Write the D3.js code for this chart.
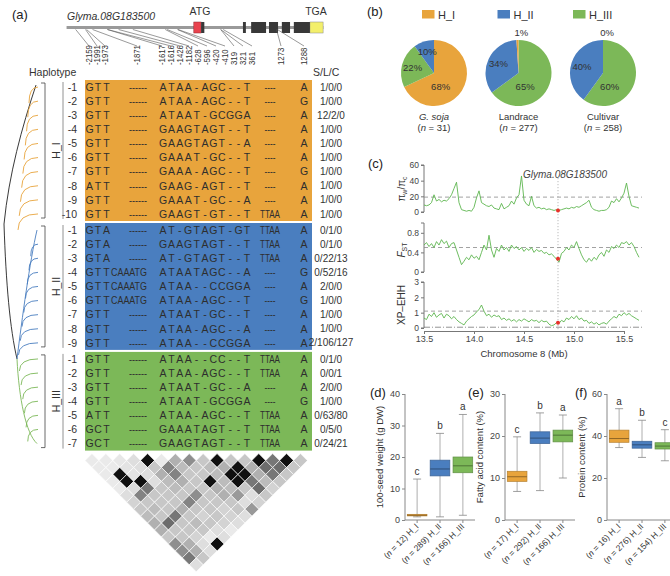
<!DOCTYPE html>
<html>
<head>
<meta charset="utf-8">
<script src="https://cdn.jsdelivr.net/npm/d3@7/dist/d3.min.js"></script>
<style>
  body { margin: 0; background: #fff; }
  svg { display: block; font-family: "Liberation Sans", Arial, sans-serif; }
</style>
</head>
<body>
<svg id="fig" width="670" height="576"></svg>
<script>
// ---------------- data ----------------
var snpLabels = ["-2159","-1991","-1973","-1871","-1617","-1616","-1426","-1182","-628","-596","-420","-410","319","321","361","1273","1288"];
var snpBp = [-2159,-1991,-1973,-1871,-1617,-1616,-1426,-1182,-628,-596,-420,-410,319,321,361,1273,1288];

// gene model in bp relative to ATG
var geneSpan = [-2315, 2075];
var utr5 = [-140, -15];
var utr3 = [1845, 2070];
var exons = [[-15, 40], [700, 750], [840, 1095], [1145, 1300], [1365, 1505], [1570, 1845]];

var haploGroups = ["H_I", "H_II", "H_III"];
// group, id, alleles (17 sites), S/L/C counts
var haplotypes = [
  ["H_I", "-1",  "G T T ------ A T A A - A G C - - T ---- A", "1/0/0"],
  ["H_I", "-2",  "G T T ------ A T A A - A G C - - T ---- G", "1/0/0"],
  ["H_I", "-3",  "G T T ------ A T A A T - G C G G A ---- A", "12/2/0"],
  ["H_I", "-4",  "G T T ------ G A A G T A G T - - T ---- A", "1/0/0"],
  ["H_I", "-5",  "G T T ------ G A A G T A G T - - A ---- A", "1/0/0"],
  ["H_I", "-6",  "G T T ------ G A A A T - G C - - T ---- A", "1/0/0"],
  ["H_I", "-7",  "G T T ------ G A A A - A G C - - T ---- G", "1/0/0"],
  ["H_I", "-8",  "A T T ------ G A A G - A G T - - T ---- A", "1/0/0"],
  ["H_I", "-9",  "G T T ------ G A A A T - G C - - A ---- A", "1/0/0"],
  ["H_I", "-10", "G T T ------ G A A G T - G T - - T TTAA A", "1/0/0"],
  ["H_II", "-1", "G T A ------ A T - G T A G T - G T TTAA A", "0/1/0"],
  ["H_II", "-2", "G T A ------ G A A G T A G T - - T TTAA A", "0/1/0"],
  ["H_II", "-3", "G T A ------ A T - G T A G T - - T TTAA A", "0/22/13"],
  ["H_II", "-4", "G T T CAAATG A T A A T A G C - - A ---- G", "0/52/16"],
  ["H_II", "-5", "G T T CAAATG A T A A - - C C G G A ---- A", "2/0/0"],
  ["H_II", "-6", "G T T CAAATG A T A A - A G C - - T ---- G", "1/0/0"],
  ["H_II", "-7", "G T T ------ A T A A T - G C - - T ---- A", "1/0/0"],
  ["H_II", "-8", "G T T ------ A T A A - A G C - - A ---- A", "1/0/0"],
  ["H_II", "-9", "G T T ------ A T A A - - C C G G A ---- A", "2/106/127"],
  ["H_III", "-1", "G T T ------ A T A A - - C C - - T TTAA A", "0/1/0"],
  ["H_III", "-2", "G T T ------ A T A A - A G C - - T TTAA A", "0/0/1"],
  ["H_III", "-3", "G T T ------ A T A A T - G C - - A ---- A", "2/0/0"],
  ["H_III", "-4", "G T T ------ A T A A T - G C G G A ---- G", "1/0/0"],
  ["H_III", "-5", "A T T ------ A T A A - A G C - - T TTAA A", "0/63/80"],
  ["H_III", "-6", "G C T ------ G A A A T A G T - - T TTAA A", "0/5/0"],
  ["H_III", "-7", "G C T ------ G A A G T A G T - - T TTAA A", "0/24/21"]
];

// pairwise LD (r2) among the 17 sites, one array per marker distance (1..16)
var ldRows = [
  [0.05,0.05,0.06,0.10,1.00,0.05,0.30,0.45,0.20,1.00,0.20,0.20,1.00,0.55,1.00,0.20],
  [0.05,0.05,0.08,0.10,0.20,0.50,0.25,0.20,0.25,0.30,1.00,0.30,0.60,0.60,0.20],
  [0.05,1.00,0.08,0.10,0.30,0.50,0.20,0.20,0.25,1.00,1.00,0.30,0.55,0.20],
  [0.05,1.00,1.00,0.10,0.25,0.30,0.20,1.00,0.25,1.00,0.55,0.25,0.20],
  [0.05,0.10,0.55,0.20,0.25,0.20,0.20,0.30,0.25,0.20,0.60,0.15],
  [0.10,0.50,0.20,0.20,0.20,0.45,0.20,0.30,0.40,0.10,0.20],
  [0.15,0.20,0.20,0.20,0.50,0.20,0.20,0.20,0.10,0.15],
  [0.20,0.25,0.20,0.30,0.20,0.20,0.15,0.20,0.40],
  [0.25,0.20,0.55,0.20,0.15,0.20,0.15,0.10],
  [0.30,0.60,0.20,0.25,0.20,0.15,0.10],
  [0.30,0.20,0.20,0.20,0.10,0.05],
  [0.20,0.20,0.15,0.05,0.10],
  [0.45,0.30,0.10,1.00],
  [0.45,0.30,0.10],
  [0.55,0.20],
  [0.10]
];

// (b) haplotype frequency (%) per population
var pieGroups = ["G. soja", "Landrace", "Cultivar"];
var pieN = [31, 277, 258];
var pctHI = [68, 1, 0];
var pctHII = [10, 34, 40];
var pctHIII = [22, 65, 60];
var pieOrder = [["H_I","H_III","H_II"], ["H_III","H_II","H_I"], ["H_III","H_II","H_I"]];

// (c) selective sweep scan, windows along chromosome 8 (Mb)
var windowStart = 13.5, windowStep = 0.025;
var piRatio = [9,8,9,12,22,14,16,13,15,14,17,22,30,38,12,3,2,1,2,1,6,18,27,12,10,8,7,9,5,4,3,11,4,6,8,14,10,18,22,46,15,10,8,20,8,5,6,4,5,3,4,3,2,3,2,3,4,5,4,6,5,7,6,8,10,12,15,6,3,2,1,2,2,3,6,14,12,17,13,18,24,37,20,8,7,6,5];
var fst = [0.55,0.60,0.52,0.58,0.50,0.62,0.55,0.66,0.58,0.63,0.50,0.58,0.60,0.45,0.30,0.15,0.22,0.30,0.25,0.35,0.28,0.32,0.25,0.40,0.55,0.45,0.75,0.45,0.30,0.48,0.42,0.55,0.45,0.50,0.42,0.55,0.48,0.52,0.45,0.50,0.42,0.48,0.44,0.50,0.40,0.46,0.42,0.44,0.38,0.40,0.35,0.37,0.32,0.26,0.20,0.38,0.42,0.50,0.45,0.55,0.50,0.62,0.48,0.35,0.25,0.20,0.28,0.22,0.30,0.25,0.35,0.40,0.32,0.45,0.40,0.52,0.48,0.55,0.50,0.60,0.58,0.62,0.55,0.60,0.52,0.40,0.30];
var xpehh = [0.65,0.55,0.90,0.75,1.00,0.70,0.85,0.95,0.65,0.90,0.80,0.60,0.75,0.55,0.40,0.30,0.20,0.45,0.60,0.75,0.85,1.05,1.20,1.50,1.10,0.80,0.90,0.70,0.85,0.75,0.80,0.55,0.65,0.50,0.60,0.45,0.55,0.40,0.55,0.45,0.60,0.50,0.40,0.55,0.45,0.50,0.35,0.50,0.40,0.45,0.25,0.15,0.20,0.35,0.30,0.50,0.40,0.65,0.55,0.75,0.60,0.80,0.55,0.65,0.45,0.50,0.30,0.40,0.25,0.35,0.20,0.30,0.35,0.25,0.45,0.60,0.75,0.65,0.90,0.80,1.00,0.85,0.95,0.80,0.70,0.60,0.50];
var genePosMb = 14.84;
var geneStats = [2, 0.27, 0.35];   // pi ratio, Fst, XP-EHH at the gene
var thresholds = [19, 0.5, 1.1];

// (d)-(f) box plots: min, q1, median, q3, max per haplotype
var seedN = [12, 289, 166];
var seedMin = [1.0, 1.0, 1.5], seedQ1 = [1.3, 14, 15], seedMed = [1.5, 16.2, 17.2], seedQ3 = [1.8, 19, 20], seedMax = [13, 27.5, 33.5];
var seedLetters = ["c", "b", "a"];
var fattyN = [17, 292, 166];
var fattyMin = [6.8, 7, 10], fattyQ1 = [9.2, 18.2, 18.6], fattyMed = [10.3, 19.5, 20.2], fattyQ3 = [11.6, 21, 21.4], fattyMax = [19.8, 25.5, 25];
var fattyLetters = ["c", "b", "a"];
var protN = [16, 276, 154];
var protMin = [34.5, 29.8, 28.2], protQ1 = [37, 34.2, 33.8], protMed = [38.8, 35.8, 35.2], protQ3 = [42.8, 37.5, 36.8], protMax = [53, 47.5, 43];
var protLetters = ["a", "b", "c"];

// ---------------- drawing ----------------
var svg = d3.select("#fig");
svg.append("rect").attr("width", 670).attr("height", 576).attr("fill", "#fff");
var ink = "#333";
var hapColor = d3.scaleOrdinal().domain(haploGroups).range(["#E8A43C", "#4A7EBF", "#7CB858"]);

function panelLabel(t, x, y) {
  svg.append("text").attr("x", x).attr("y", y).attr("font-size", 13).attr("fill", "#222").text(t);
}

// ===== (a) =====
panelLabel("(a)", 12, 19);
var gA = svg.append("g");
var gx = d3.scaleLinear().domain([0, 1000]).range([202, 260.5]);
var gy = 27.5;

gA.append("text").attr("x", 67).attr("y", 20).attr("font-size", 10.5).attr("font-style", "italic")
  .attr("fill", ink).text("Glyma.08G183500");
gA.append("text").attr("x", 200).attr("y", 15).attr("font-size", 10.5).attr("text-anchor", "middle").attr("fill", ink).text("ATG");
gA.append("text").attr("x", 316).attr("y", 15).attr("font-size", 10.5).attr("text-anchor", "middle").attr("fill", ink).text("TGA");

gA.append("line").attr("x1", gx(geneSpan[0])).attr("x2", gx(geneSpan[1])).attr("y1", gy).attr("y2", gy)
  .attr("stroke", "#9a9a9a").attr("stroke-width", 3);
gA.append("rect").attr("x", gx(utr5[0])).attr("width", gx(utr5[1]) - gx(utr5[0])).attr("y", gy - 5.5).attr("height", 11)
  .attr("fill", "#E8434E").attr("stroke", "#8a2a30").attr("stroke-width", 0.5);
gA.append("rect").attr("x", gx(utr3[0])).attr("width", gx(utr3[1]) - gx(utr3[0])).attr("y", gy - 5.5).attr("height", 11)
  .attr("fill", "#F3EF6B").attr("stroke", "#888").attr("stroke-width", 0.5);
gA.selectAll("rect.exon").data(exons).enter().append("rect").attr("class", "exon")
  .attr("x", function (d) { return gx(d[0]); })
  .attr("width", function (d) { return gx(d[1]) - gx(d[0]); })
  .attr("y", gy - 5.5).attr("height", 11).attr("fill", "#383838");

var labelX = [89, 97, 105, 137, 162, 171, 180, 189, 198, 207, 216, 225, 234, 243, 252, 281, 304];
gA.selectAll("line.snp").data(snpBp).enter().append("line").attr("class", "snp")
  .attr("x1", function (d) { return gx(d); }).attr("y1", gy + 2)
  .attr("x2", function (d, i) { return labelX[i]; }).attr("y2", 46)
  .attr("stroke", "#555").attr("stroke-width", 0.6);
gA.selectAll("text.snp").data(snpLabels).enter().append("text").attr("class", "snp")
  .attr("transform", function (d, i) { return "translate(" + labelX[i] + ",65) rotate(-90) scale(0.82,1)"; })
  .attr("dy", "0.35em").attr("font-size", 9.5).attr("fill", ink).text(function (d) { return d; });

gA.append("text").attr("x", 29).attr("y", 76).attr("font-size", 10.5).attr("fill", ink).text("Haplotype");
gA.append("text").attr("x", 313).attr("y", 76).attr("font-size", 10.5).attr("fill", ink).text("S/L/C");

// table rows
var rowH = 14.1, groupGap = 2, tableTop = 80;
var rowTop = [], yy = tableTop;
haplotypes.forEach(function (h, i) {
  if (i > 0 && h[0] !== haplotypes[i - 1][0]) yy += groupGap;
  rowTop.push(yy);
  yy += rowH;
});
function rowMid(i) { return rowTop[i] + rowH / 2; }
var groupSpan = haploGroups.map(function (g) {
  var idx = haplotypes.map(function (h, i) { return h[0] === g ? i : -1; }).filter(function (i) { return i >= 0; });
  return { g: g, first: idx[0], last: idx[idx.length - 1], top: rowTop[idx[0]], bottom: rowTop[idx[idx.length - 1]] + rowH };
});

gA.selectAll("rect.blk").data(groupSpan).enter().append("rect").attr("class", "blk")
  .attr("x", 85).attr("width", 227)
  .attr("y", function (d) { return d.top; }).attr("height", function (d) { return d.bottom - d.top; })
  .attr("fill", function (d) { return hapColor(d.g); });

var colX = [89.5, 98, 106.5, 147, 163, 171.4, 179.8, 188.2, 196.6, 205, 213.4, 221.8, 230.2, 238.6, 247, 270, 304];
var wideLen = { "------": 18, "CAAATG": 36, "----": 11, "TTAA": 20 };
haplotypes.forEach(function (h, i) {
  var y = rowMid(i);
  var alle = h[2].split(" ");
  var row = gA.append("g").attr("font-size", 10.5).attr("fill", "#2e2e2e");
  alle.forEach(function (a, k) {
    var t = row.append("text").attr("y", y).attr("dy", "0.36em").text(a);
    if (k === 3) {
      t.attr("x", colX[k] - wideLen[a]).attr("textLength", wideLen[a]).attr("lengthAdjust", "spacingAndGlyphs");
    } else if (k === 15) {
      t.attr("x", colX[k] - wideLen[a] / 2).attr("textLength", wideLen[a]).attr("lengthAdjust", "spacingAndGlyphs");
    } else {
      t.attr("x", colX[k]).attr("text-anchor", "middle");
    }
  });
  gA.append("text").attr("x", 77).attr("y", y).attr("dy", "0.36em").attr("text-anchor", "end")
    .attr("font-size", 10.5).attr("fill", ink).text(h[1]);
  gA.append("text").attr("x", 331).attr("y", y).attr("dy", "0.36em").attr("text-anchor", "middle")
    .attr("font-size", 10).attr("fill", ink).text(h[3]);
});

// group brackets
groupSpan.forEach(function (s) {
  gA.append("line").attr("x1", 63).attr("x2", 63).attr("y1", s.top + 2).attr("y2", s.bottom - 2)
    .attr("stroke", "#777").attr("stroke-width", 0.8);
  gA.append("path").attr("d", "M41," + (s.top + 3) + "H45V" + (s.bottom - 3) + "H41")
    .attr("fill", "none").attr("stroke", "#444").attr("stroke-width", 0.8);
  gA.append("text").attr("transform", "translate(56," + ((s.top + s.bottom) / 2) + ") rotate(-90)")
    .attr("text-anchor", "middle").attr("dy", "0.35em").attr("font-size", 10.5).attr("fill", ink).text(s.g);
});

// dendrogram
var tree = gA.append("g").attr("fill", "none").attr("stroke-width", 0.9);
var rootY = (rowMid(groupSpan[0].last) + rowMid(groupSpan[1].first)) / 2 + 2;
var nodeLow = [17, rowMid(groupSpan[2].first)];
tree.append("path").attr("stroke", "#222")
  .attr("d", "M4," + rootY + "C9," + (rootY - 50) + " 22," + (rowMid(0) + 40) + " 36," + (rowMid(0) - 2));
tree.append("path").attr("stroke", "#222")
  .attr("d", "M4," + rootY + "C6," + (rootY + 60) + " 10," + (nodeLow[1] - 30) + " " + nodeLow[0] + "," + nodeLow[1]);
function leaf(x0, y0, x1, y1) { return "M" + x0 + "," + y0 + "Q" + x0 + "," + y1 + " " + x1 + "," + y1; }
var stemI = d3.scaleLinear().domain([rowMid(0), rowMid(groupSpan[0].last)]).range([33, 22]);
d3.range(groupSpan[0].first, groupSpan[0].last + 1).forEach(function (i) {
  var y = rowMid(i);
  tree.append("path").attr("stroke", hapColor("H_I")).attr("d", leaf(stemI(y) - 4, y + 16, 38, y));
});
tree.append("path").attr("stroke", hapColor("H_II"))
  .attr("d", "M" + nodeLow[0] + "," + nodeLow[1] + "C22," + (nodeLow[1] - 40) + " 30," + (rowMid(groupSpan[1].first) + 30) + " 37," + rowMid(groupSpan[1].first));
var stemII = d3.scaleLinear().domain([rowMid(groupSpan[1].first), nodeLow[1]]).range([34, 18]);
d3.range(groupSpan[1].first + 1, groupSpan[1].last + 1).forEach(function (i) {
  var y = rowMid(i);
  tree.append("path").attr("stroke", hapColor("H_II")).attr("d", leaf(stemII(y + 12), y + 12, 38, y));
});
tree.append("path").attr("stroke", hapColor("H_III"))
  .attr("d", "M" + nodeLow[0] + "," + nodeLow[1] + "C19," + (nodeLow[1] + 40) + " 26," + (rowMid(groupSpan[2].last) - 10) + " 37," + rowMid(groupSpan[2].last));
var stemIII = d3.scaleLinear().domain([nodeLow[1], rowMid(groupSpan[2].last)]).range([18, 28]);
d3.range(groupSpan[2].first, groupSpan[2].last).forEach(function (i) {
  var y = rowMid(i);
  tree.append("path").attr("stroke", hapColor("H_III")).attr("d", leaf(stemIII(y + 12), y + 12, 38, y));
});

// LD triangle
var ldX0 = 85, ldS = 13.9, ldY0 = groupSpan[2].bottom + 3;
var ldCells = [];
ldRows.forEach(function (row, r) {
  var d = r + 1;
  row.forEach(function (v, i) { ldCells.push({ i: i, j: i + d, v: v }); });
});
var ldColor = d3.scaleLinear().domain([0, 1]).range(["#f5f5f5", "#101010"]);
gA.selectAll("path.ld").data(ldCells).enter().append("path").attr("class", "ld")
  .attr("d", function (c) {
    var cx = ldX0 + (c.i + c.j) / 2 * ldS, cy = ldY0 + (c.j - c.i) * ldS / 2, h = ldS / 2;
    return "M" + cx + "," + (cy - h) + "L" + (cx + h) + "," + cy + "L" + cx + "," + (cy + h) + "L" + (cx - h) + "," + cy + "Z";
  })
  .attr("fill", function (c) { return ldColor(c.v); })
  .attr("stroke", "#fff").attr("stroke-width", 0.6);

// ===== (b) =====
panelLabel("(b)", 367, 16);
var gB = svg.append("g");
var legX = d3.scalePoint().domain(haploGroups).range([422, 573]);
haploGroups.forEach(function (g) {
  gB.append("rect").attr("x", legX(g)).attr("y", 10).attr("width", 12.5).attr("height", 8.5).attr("fill", hapColor(g));
  gB.append("text").attr("x", legX(g) + 16).attr("y", 18.5).attr("font-size", 11).attr("fill", ink).text(g);
});
var pieX = d3.scalePoint().domain(pieGroups).range([434, 603]);
var pieY = 73, pieR = 33;
var arc = d3.arc().innerRadius(0).outerRadius(pieR);
var pie = d3.pie().sort(null).value(function (d) { return d.v; });
pieGroups.forEach(function (p, k) {
  var pct = { H_I: pctHI[k], H_II: pctHII[k], H_III: pctHIII[k] };
  var data = pieOrder[k].map(function (g) { return { g: g, v: pct[g] }; });
  var arcs = pie(data);
  var cx = pieX(p);
  var g = gB.append("g").attr("transform", "translate(" + cx + "," + pieY + ")");
  g.selectAll("path").data(arcs).enter().append("path").attr("d", arc)
    .attr("fill", function (d) { return hapColor(d.data.g); });
  arcs.forEach(function (a) {
    var mid = (a.startAngle + a.endAngle) / 2, x, y;
    if (a.data.v < 5) { x = Math.sin(mid) * (pieR + 7) + 4; y = -Math.cos(mid) * (pieR + 7); }
    else if (a.data.v > 50) { x = pieR * 0.2; y = pieR * 0.4; }
    else { x = Math.sin(mid) * pieR * 0.67; y = -Math.cos(mid) * pieR * 0.67; }
    g.append("text").attr("x", x).attr("y", y).attr("dy", "0.35em").attr("text-anchor", "middle")
      .attr("font-size", 9.5).attr("fill", ink).text(a.data.v + "%");
  });
  var lab = gB.append("text").attr("x", cx).attr("y", 120).attr("text-anchor", "middle").attr("font-size", 9.5).attr("fill", ink).text(p);
  if (k === 0) lab.attr("font-style", "italic");
  var nt = gB.append("text").attr("x", cx).attr("y", 131).attr("text-anchor", "middle").attr("font-size", 9.5).attr("fill", ink);
  nt.append("tspan").text("(");
  nt.append("tspan").attr("font-style", "italic").text("n");
  nt.append("tspan").text(" = " + pieN[k] + ")");
});

// ===== (c) =====
panelLabel("(c)", 368, 168);
var gC = svg.append("g");
var xMb = d3.scaleLinear().domain([13.5, 15.5]).range([424, 624]);
var winMb = piRatio.map(function (v, i) { return windowStart + i * windowStep; });
var tracks = [
  { vals: piRatio, y: d3.scaleLinear().domain([0, 60]).range([212, 165]), ticks: [0, 20, 40, 60], fmt: d3.format("d"), top: 60 },
  { vals: fst, y: d3.scaleLinear().domain([0, 1]).range([272, 223]), ticks: [0, 0.4, 0.8], fmt: function (d) { return d === 0 ? "0" : d3.format(".1f")(d); }, top: 1 },
  { vals: xpehh, y: d3.scaleLinear().domain([0, 3]).range([328, 282]), ticks: [0, 1, 2, 3], fmt: d3.format("d"), top: 3 }
];
var lineCol = "#5DB54F";
tracks.forEach(function (t, k) {
  var ax = gC.append("g").attr("transform", "translate(424,0)")
    .call(d3.axisLeft(t.y).tickValues(t.ticks).tickFormat(t.fmt).tickSize(3).tickPadding(2));
  ax.select(".domain").attr("d", "M-3," + t.y(t.top) + "H0V" + t.y(0) + "H-3").attr("stroke", "#777");
  ax.selectAll(".tick line").attr("stroke", "#777");
  ax.selectAll("text").attr("font-size", 8.5).attr("fill", "#444").attr("font-family", null);
  gC.append("line").attr("x1", 424).attr("x2", 642).attr("y1", t.y(thresholds[k])).attr("y2", t.y(thresholds[k]))
    .attr("stroke", "#8a8a8a").attr("stroke-width", 0.8).attr("stroke-dasharray", "4,3");
  var line = d3.line().x(function (d, i) { return xMb(winMb[i]); }).y(function (d) { return t.y(d); });
  gC.append("path").datum(t.vals).attr("d", line).attr("fill", "none").attr("stroke", lineCol).attr("stroke-width", 0.9);
});
// XP-EHH baseline
gC.append("line").attr("x1", 424).attr("x2", 642).attr("y1", tracks[2].y(0.05)).attr("y2", tracks[2].y(0.05))
  .attr("stroke", "#666").attr("stroke-width", 0.7).attr("stroke-dasharray", "6,2,1,2");
// gene marker
gC.append("line").attr("x1", xMb(genePosMb)).attr("x2", xMb(genePosMb)).attr("y1", 178).attr("y2", 330)
  .attr("stroke", "#aaa").attr("stroke-width", 0.8).attr("stroke-dasharray", "1.2,1.8");
tracks.forEach(function (t, k) {
  gC.append("circle").attr("cx", xMb(genePosMb)).attr("cy", t.y(geneStats[k])).attr("r", 2).attr("fill", "#E8312A");
});
gC.append("text").attr("x", xMb(genePosMb) - 35).attr("y", 178).attr("font-size", 10).attr("font-style", "italic")
  .attr("fill", "#444").text("Glyma.08G183500");
var xa = gC.append("g").attr("transform", "translate(0,331)")
  .call(d3.axisBottom(xMb).tickValues([13.5, 14, 14.5, 15, 15.5]).tickFormat(d3.format(".1f")).tickSize(3).tickPadding(2));
xa.select(".domain").attr("stroke", "#777");
xa.selectAll(".tick line").attr("stroke", "#777");
xa.selectAll("text").attr("font-size", 9).attr("fill", "#444").attr("font-family", null);
gC.append("text").attr("x", 524).attr("y", 357).attr("text-anchor", "middle").attr("font-size", 9.5).attr("fill", ink).text("Chromosome 8 (Mb)");
// y titles
var t1 = gC.append("text").attr("transform", "translate(405,189) rotate(-90)").attr("text-anchor", "middle").attr("font-size", 10).attr("fill", ink);
t1.append("tspan").text("\u03c0");
t1.append("tspan").attr("font-size", 7).attr("dy", 2).text("w");
t1.append("tspan").attr("dy", -2).text("/\u03c0");
t1.append("tspan").attr("font-size", 7).attr("dy", 2).text("c");
var t2 = gC.append("text").attr("transform", "translate(405,250) rotate(-90)").attr("text-anchor", "middle").attr("font-size", 10).attr("fill", ink);
t2.append("tspan").attr("font-style", "italic").text("F");
t2.append("tspan").attr("font-size", 7).attr("dy", 2).text("ST");
gC.append("text").attr("transform", "translate(405,305) rotate(-90)").attr("text-anchor", "middle").attr("font-size", 10).attr("fill", ink).text("XP\u2013EHH");

// ===== (d)-(f) =====
var boxPanels = [
  { tag: "(d)", tagX: 370, title: "100-seed weight (g DW)", axisX: 405, domain: [0, 40], ticks: [0, 10, 20, 30, 40], n: seedN,
    mn: seedMin, q1: seedQ1, md: seedMed, q3: seedQ3, mx: seedMax, letters: seedLetters },
  { tag: "(e)", tagX: 468, title: "Fatty acid content (%)", axisX: 505, domain: [0, 30], ticks: [0, 10, 20, 30], n: fattyN,
    mn: fattyMin, q1: fattyQ1, md: fattyMed, q3: fattyQ3, mx: fattyMax, letters: fattyLetters },
  { tag: "(f)", tagX: 575, title: "Protein content (%)", axisX: 607, domain: [0, 60], ticks: [0, 20, 40, 60], n: protN,
    mn: protMin, q1: protQ1, md: protMed, q3: protQ3, mx: protMax, letters: protLetters }
];
boxPanels.forEach(function (p) {
  panelLabel(p.tag, p.tagX, 397);
  var g = svg.append("g");
  var y = d3.scaleLinear().domain(p.domain).range([520, 394]);
  var x = d3.scaleBand().domain(haploGroups).range([p.axisX, p.axisX + 70]).paddingInner(0.14).paddingOuter(0.1);
  var ay = g.append("g").attr("transform", "translate(" + p.axisX + ",0)")
    .call(d3.axisLeft(y).tickValues(p.ticks).tickSize(3).tickPadding(2));
  ay.select(".domain").attr("d", "M0," + y.range()[1] + "V" + y.range()[0]).attr("stroke", "#888");
  ay.selectAll(".tick line").attr("stroke", "#888");
  ay.selectAll("text").attr("font-size", 9).attr("fill", "#444").attr("font-family", null);
  var ax = g.append("g").attr("transform", "translate(0,520)")
    .call(d3.axisBottom(x).tickSize(3).tickFormat(""));
  ax.select(".domain").attr("d", "M" + p.axisX + ",0H" + (p.axisX + 70)).attr("stroke", "#888");
  ax.selectAll(".tick line").attr("stroke", "#888");
  g.append("text").attr("transform", "translate(" + (p.axisX - 22) + ",457) rotate(-90)").attr("text-anchor", "middle")
    .attr("font-size", 9.5).attr("fill", ink).text(p.title);
  haploGroups.forEach(function (h, k) {
    var cx = x(h) + x.bandwidth() / 2, bw = x.bandwidth();
    var col = d3.color(hapColor(h));
    g.append("line").attr("x1", cx).attr("x2", cx).attr("y1", y(p.mn[k])).attr("y2", y(p.mx[k])).attr("stroke", "#999").attr("stroke-width", 0.8);
    [p.mn[k], p.mx[k]].forEach(function (v) {
      g.append("line").attr("x1", cx - 4).attr("x2", cx + 4).attr("y1", y(v)).attr("y2", y(v)).attr("stroke", "#888").attr("stroke-width", 0.8);
    });
    g.append("rect").attr("x", cx - bw / 2).attr("width", bw).attr("y", y(p.q3[k])).attr("height", Math.max(1.5, y(p.q1[k]) - y(p.q3[k])))
      .attr("fill", col.formatHex()).attr("stroke", col.darker(0.7).formatHex()).attr("stroke-width", 0.7);
    g.append("line").attr("x1", cx - bw / 2).attr("x2", cx + bw / 2).attr("y1", y(p.md[k])).attr("y2", y(p.md[k]))
      .attr("stroke", col.darker(1.3).formatHex()).attr("stroke-width", 1);
    g.append("text").attr("x", cx).attr("y", y(p.mx[k]) - 4).attr("text-anchor", "middle").attr("font-size", 10).attr("fill", ink).text(p.letters[k]);
    var tl = g.append("text").attr("transform", "translate(" + (cx + 2) + ",527) rotate(-45)").attr("text-anchor", "end")
      .attr("font-size", 8.5).attr("fill", ink);
    tl.append("tspan").text("(");
    tl.append("tspan").attr("font-style", "italic").text("n");
    tl.append("tspan").text(" = " + p.n[k] + ") " + h);
  });
});
</script>
</body>
</html>
